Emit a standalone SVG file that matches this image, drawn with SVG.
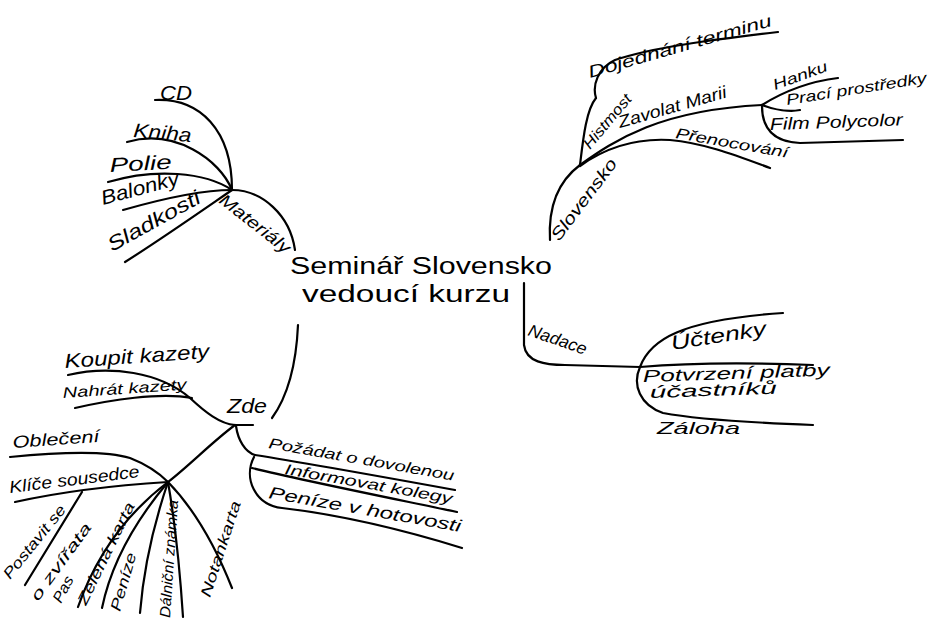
<svg xmlns="http://www.w3.org/2000/svg" width="930" height="621" viewBox="0 0 930 621">
<style>
.ln{fill:none;stroke:#000;stroke-width:2.2;stroke-linecap:round;stroke-linejoin:round}
text{font-family:"Liberation Sans","DejaVu Sans",sans-serif;font-style:italic;fill:#000;font-size:17px}
.c{font-size:23px;font-style:normal}
.m{font-size:20px}
.s{font-size:15px}
</style>
<rect width="930" height="621" fill="#fff"/>
<g id="connectors">
<path class="ln" d="M155,100 C200,98 232,130 232,190"/>
<path class="ln" d="M127,142 C175,128 220,160 232,190"/>
<path class="ln" d="M108,182 C155,168 205,172 232,190"/>
<path class="ln" d="M123,210 C165,198 205,190 232,190"/>
<path class="ln" d="M125,262 C160,240 200,212 232,190"/>
<path class="ln" d="M232,190 C262,190 290,215 295,250"/>
<path class="ln" d="M550,240 C548,205 560,180 580,165"/>
<path class="ln" d="M580,165 C583,140 586,110 596,98"/>
<path class="ln" d="M596,98 C592,85 598,68 615,60 C650,48 710,40 778,32"/>
<path class="ln" d="M580,165 C615,140 660,110 762,105"/>
<path class="ln" d="M762,105 C778,95 805,82 838,78"/>
<path class="ln" d="M762,105 C775,110 790,112 800,110"/>
<path class="ln" d="M762,106 C762,130 775,142 800,143 L903,140"/>
<path class="ln" d="M580,166 C605,148 635,138 670,140 C705,143 740,157 770,168"/>
<path class="ln" d="M524,283 L524,345 C526,362 545,365 565,365 L640,367"/>
<path class="ln" d="M640,367 C650,340 680,320 783,313"/>
<path class="ln" d="M640,367 C700,362 760,363 813,365"/>
<path class="ln" d="M640,367 C632,385 640,405 663,413 C700,420 760,423 813,425"/>
<path class="ln" d="M298,325 C296,370 285,400 272,418"/>
<path class="ln" d="M68,375 C110,365 160,372 190,398 C205,412 220,424 235,425"/>
<path class="ln" d="M75,408 C110,400 160,392 192,398"/>
<path class="ln" d="M235,425 L253,425"/>
<path class="ln" d="M235,425 C212,442 190,465 168,482"/>
<path class="ln" d="M236,426 C238,440 245,452 255,455"/>
<path class="ln" d="M255,455 C300,462 400,480 455,490"/>
<path class="ln" d="M252,468 C300,480 400,500 457,512"/>
<path class="ln" d="M254,457 C243,478 255,505 282,508 C350,516 420,535 462,548"/>
<path class="ln" d="M10,457 C60,452 105,450 130,458 C148,465 160,474 168,482"/>
<path class="ln" d="M15,502 C60,492 120,485 168,482"/>
<path class="ln" d="M82,492 L25,585"/>
<path class="ln" d="M168,482 Q105,530 78,607"/>
<path class="ln" d="M168,482 Q115,545 102,608"/>
<path class="ln" d="M168,482 Q145,550 140,613"/>
<path class="ln" d="M168,482 Q178,540 183,617"/>
<path class="ln" d="M168,482 Q205,520 232,588"/>
</g>
<g id="center"><text class="c" x="290" y="274" textLength="262" lengthAdjust="spacingAndGlyphs">Seminář Slovensko</text><text class="c" x="302" y="302" textLength="208" lengthAdjust="spacingAndGlyphs">vedoucí kurzu</text></g>
<g id="materialy"><text transform="translate(218,202) rotate(38)" textLength="85" lengthAdjust="spacingAndGlyphs">Materiály</text></g>
<g id="cd"><text class="m" x="160" y="100" textLength="32" lengthAdjust="spacingAndGlyphs">CD</text></g>
<g id="kniha"><text class="m" transform="translate(133,137) rotate(5)" textLength="58" lengthAdjust="spacingAndGlyphs">Kniha</text></g>
<g id="polie"><text class="m" transform="translate(110,172) rotate(-3)" textLength="62" lengthAdjust="spacingAndGlyphs">Polie</text></g>
<g id="balonky"><text class="m" transform="translate(103,205) rotate(-15)" textLength="80" lengthAdjust="spacingAndGlyphs">Balonky</text></g>
<g id="sladkosti"><text class="m" transform="translate(112,252) rotate(-29)" textLength="103" lengthAdjust="spacingAndGlyphs">Sladkosti</text></g>
<g id="slovensko"><text transform="translate(559,242) rotate(-53)" textLength="98" lengthAdjust="spacingAndGlyphs">Slovensko</text></g>
<g id="histmost"><text class="s" transform="translate(590,150) rotate(-50)" textLength="66" lengthAdjust="spacingAndGlyphs">Histmost</text></g>
<g id="dojednani"><text transform="translate(590,78) rotate(-16)" textLength="190" lengthAdjust="spacingAndGlyphs">Dojednání terminu</text></g>
<g id="zavolat"><text transform="translate(620,128) rotate(-16)" textLength="112" lengthAdjust="spacingAndGlyphs">Zavolat Marii</text></g>
<g id="hanku"><text class="s" transform="translate(775,90) rotate(-20)" textLength="57" lengthAdjust="spacingAndGlyphs">Hanku</text></g>
<g id="praci"><text class="s" transform="translate(787,105) rotate(-9)" textLength="142" lengthAdjust="spacingAndGlyphs">Prací prostředky</text></g>
<g id="film"><text transform="translate(770,130) rotate(-2)" textLength="133" lengthAdjust="spacingAndGlyphs">Film Polycolor</text></g>
<g id="prenocovani"><text class="s" transform="translate(675,138) rotate(10)" textLength="114" lengthAdjust="spacingAndGlyphs">Přenocování</text></g>
<g id="nadace"><text transform="translate(527,335) rotate(19)" textLength="61" lengthAdjust="spacingAndGlyphs">Nadace</text></g>
<g id="uctenky"><text class="m" transform="translate(672,350) rotate(-9)" textLength="96" lengthAdjust="spacingAndGlyphs">Účtenky</text></g>
<g id="potvrzeni"><text transform="translate(643,382) rotate(-2)" textLength="187" lengthAdjust="spacingAndGlyphs">Potvrzení platby</text><text transform="translate(650,398) rotate(-2)" textLength="127" lengthAdjust="spacingAndGlyphs">účastníků</text></g>
<g id="zaloha"><text transform="translate(657,434)" textLength="83" lengthAdjust="spacingAndGlyphs">Záloha</text></g>
<g id="zde"><text class="m" x="227" y="413" textLength="40" lengthAdjust="spacingAndGlyphs">Zde</text></g>
<g id="koupit"><text class="m" transform="translate(65,368) rotate(-4)" textLength="145" lengthAdjust="spacingAndGlyphs">Koupit kazety</text></g>
<g id="nahrat"><text class="s" transform="translate(63,398) rotate(-4)" textLength="124" lengthAdjust="spacingAndGlyphs">Nahrát kazety</text></g>
<g id="obleceni"><text transform="translate(13,448) rotate(-4)" textLength="87" lengthAdjust="spacingAndGlyphs">Oblečení</text></g>
<g id="klice"><text transform="translate(10,493) rotate(-7)" textLength="131" lengthAdjust="spacingAndGlyphs">Klíče sousedce</text></g>
<g id="pozadat"><text class="s" transform="translate(268,448) rotate(10)" textLength="188" lengthAdjust="spacingAndGlyphs">Požádat o dovolenou</text></g>
<g id="informovat"><text class="s" transform="translate(284,474) rotate(10)" textLength="170" lengthAdjust="spacingAndGlyphs">Informovat kolegy</text></g>
<g id="penize-hot"><text transform="translate(268,498) rotate(10)" textLength="195" lengthAdjust="spacingAndGlyphs">Peníze v hotovosti</text></g>
<g id="postavit"><text class="s" transform="translate(10,580) rotate(-51)" textLength="90" lengthAdjust="spacingAndGlyphs">Postavit se</text><text class="s" transform="translate(38,602) rotate(-54)" textLength="92" lengthAdjust="spacingAndGlyphs">o zvířata</text></g>
<g id="pas"><text class="s" transform="translate(61,604) rotate(-62)" textLength="28" lengthAdjust="spacingAndGlyphs">Pas</text></g>
<g id="zelena"><text class="s" transform="translate(86,606) rotate(-64)" textLength="112" lengthAdjust="spacingAndGlyphs">Zelená karta</text></g>
<g id="penize"><text class="s" transform="translate(120,612) rotate(-74)" textLength="60" lengthAdjust="spacingAndGlyphs">Peníze</text></g>
<g id="dalnicni"><text class="s" transform="translate(170,618) rotate(-86)" textLength="118" lengthAdjust="spacingAndGlyphs">Dálniční známka</text></g>
<g id="notankarta"><text class="s" transform="translate(210,598) rotate(-72)" textLength="100" lengthAdjust="spacingAndGlyphs">Notankarta</text></g>
</svg>
